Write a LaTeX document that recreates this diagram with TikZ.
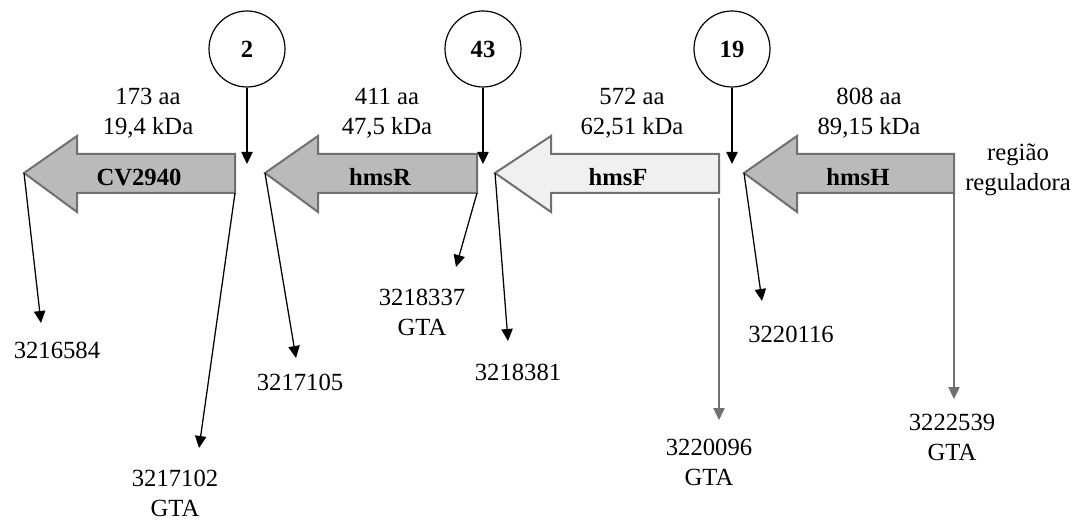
\documentclass[tikz,border=0pt]{standalone}
\usepackage{fontspec}
\setmainfont{Liberation Serif}
\usetikzlibrary{arrows.meta}

\definecolor{genedark}{RGB}{186,186,186}
\definecolor{genelight}{RGB}{240,240,240}
\definecolor{geneedge}{RGB}{112,112,112}
\newcommand\mapfont{\fontsize{18.5}{22.5}\selectfont}

\tikzset{
  genebody/.style={draw=geneedge, line width=1.5pt, line join=miter},
  site/.style={draw, circle, line width=0.9pt, minimum size=57pt, font=\mapfont\bfseries},
  pointer/.style={line width=0.95pt, -{Triangle[length=9pt, width=8.5pt]}},
  mark label/.style={font=\mapfont, inner sep=0pt, align=center}
}

\begin{document}
\begin{tikzpicture}[x=0.75pt, y=-0.75pt]
  \useasboundingbox (0,0) rectangle (1084,520);

  % genes, all read right to left
  \foreach \tip/\neck/\rgt/\col/\lx/\nm/\lbl in {
      24/77/235/genedark/139/cv/CV2940,
      265/318/477/genedark/380/hmsr/hmsR,
      495/551/719/genelight/618/hmsf/hmsF,
      744/797/954/genedark/858/hmsh/hmsH} {
    \draw[genebody, fill=\col] (\rgt,154) -- (\neck,154) -- (\neck,136)
      -- (\tip,173) coordinate (\nm-tip) -- (\neck,212) -- (\neck,193)
      -- (\rgt,193) coordinate (\nm-end) -- cycle;
    \node[mark label, font=\mapfont\bfseries] (\nm-name) at (\lx,177) {\lbl};
  }

  % size of each product
  \node[mark label] (cv-size) at (148,113) {173 aa\\19,4 kDa};
  \node[mark label] (hmsr-size) at (387,113) {411 aa\\47,5 kDa};
  \node[mark label] (hmsf-size) at (632,113) {572 aa\\62,51 kDa};
  \node[mark label] (hmsh-size) at (869,113) {808 aa\\89,15 kDa};
  \node[mark label] (reg) at (1018,170) {região\\reguladora};

  % numbered sites between the genes
  \foreach \cx/\num/\nm in {247/2/a, 483/43/b, 732/19/c} {
    \node[site] (site-\nm) at (\cx,49) {\num};
    \coordinate (site-\nm-hit) at (\cx,164);
    \draw[pointer] (site-\nm) -- (site-\nm-hit);
  }

  % positions on the genome
  \node[mark label] (p1) at (57,350) {3216584};
  \node[mark label] (p2) at (175,493) {3217102\\GTA};
  \node[mark label] (p3) at (300,382) {3217105};
  \node[mark label] (p4) at (422,312) {3218337\\GTA};
  \node[mark label] (p5) at (518,372) {3218381};
  \node[mark label] (p6) at (709,462) {3220096\\GTA};
  \node[mark label] (p7) at (791,334) {3220116};
  \node[mark label] (p8) at (952,437) {3222539\\GTA};

  \coordinate (p1-hit) at (41,323);
  \coordinate (p2-hit) at (199,448);
  \coordinate (p3-hit) at (296,358);
  \coordinate (p4-hit) at (456,267);
  \coordinate (p5-hit) at (508,341);
  \coordinate (p6-top) at (719,198);
  \coordinate (p6-hit) at (719,420);
  \coordinate (p7-hit) at (762,301);
  \coordinate (p8-hit) at (954,399);

  \draw[pointer] (cv-tip) -- (p1-hit);
  \draw[pointer] (cv-end) -- (p2-hit);
  \draw[pointer] (hmsr-tip) -- (p3-hit);
  \draw[pointer] (hmsr-end) -- (p4-hit);
  \draw[pointer] (hmsf-tip) -- (p5-hit);
  \draw[pointer, draw=geneedge] (p6-top) -- (p6-hit);
  \draw[pointer] (hmsh-tip) -- (p7-hit);
  \draw[pointer, draw=geneedge] (hmsh-end) -- (p8-hit);
\end{tikzpicture}
\end{document}
